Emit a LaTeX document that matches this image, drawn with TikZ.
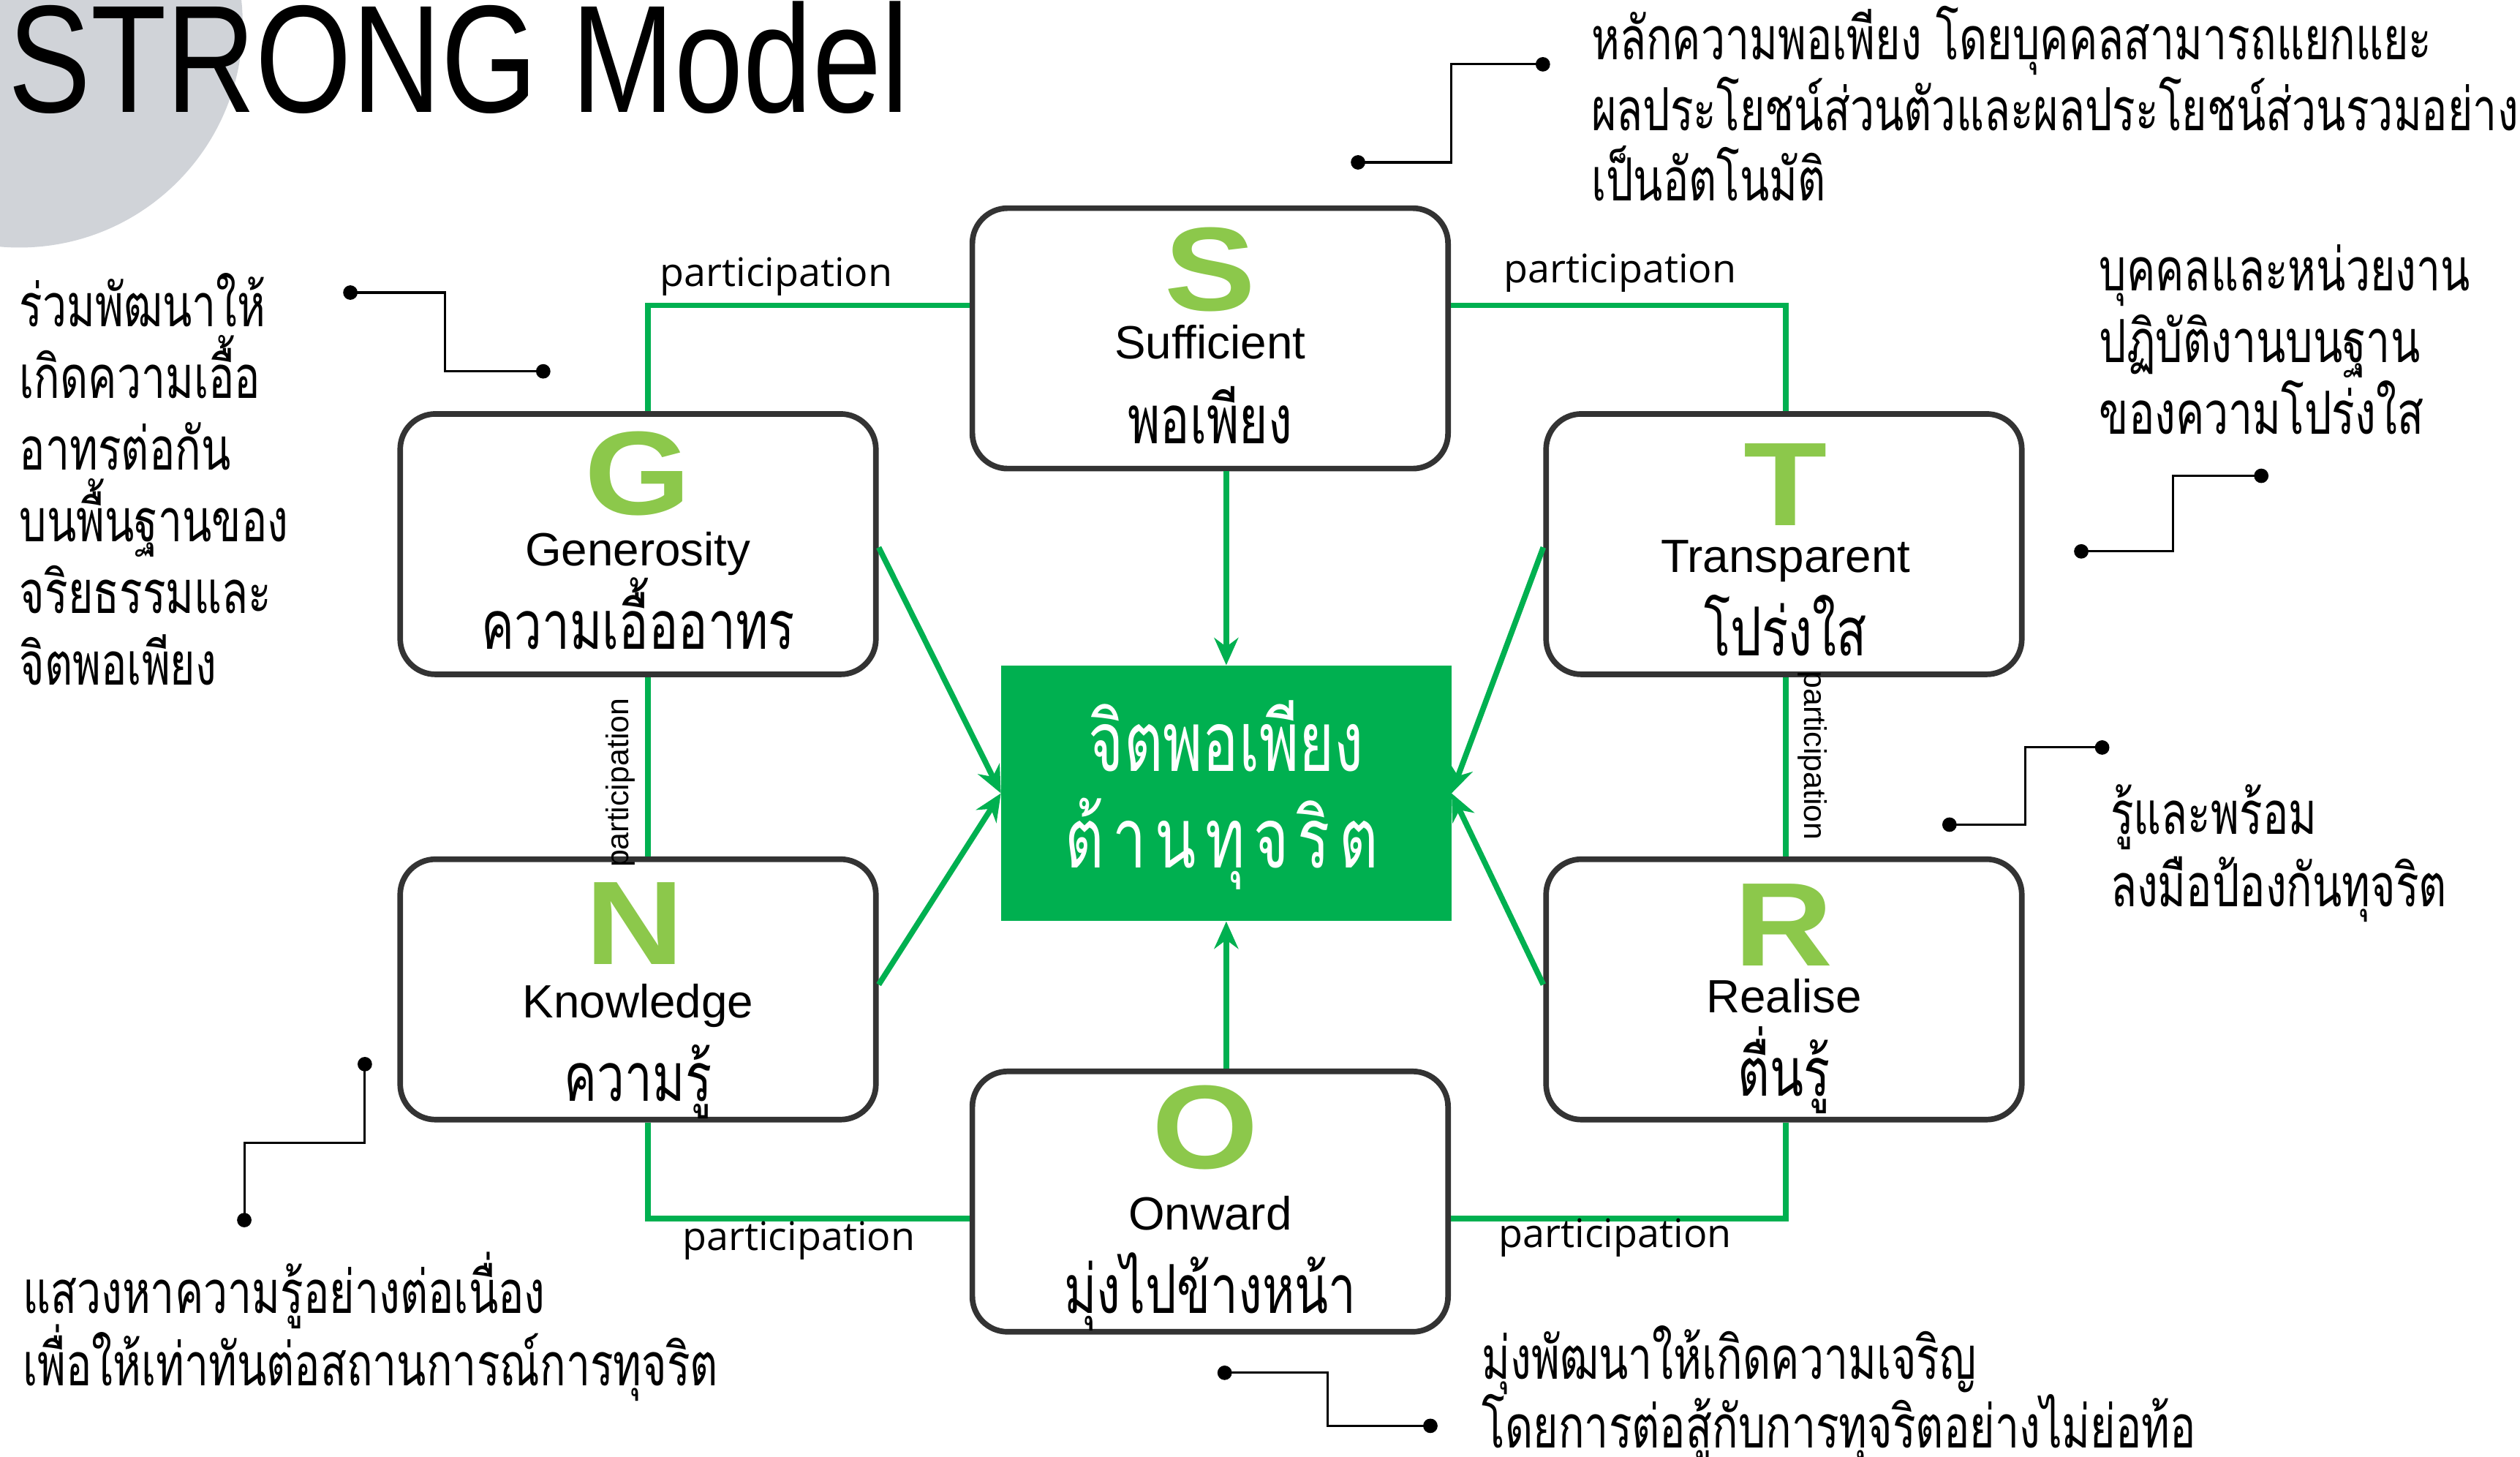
\documentclass[tikz,border=0pt]{standalone}
\usepackage{fontspec}
\setmainfont{Liberation Sans}
\newfontfamily\thain[Script=Thai,FakeStretch=0.725]{Loma}
\newfontfamily\thaib[Script=Thai,FakeStretch=0.73]{Loma}
\newfontfamily\thaic[Script=Thai,FakeStretch=0.72]{Loma}
\newfontfamily\opens{Open Sans}
\usetikzlibrary{arrows.meta}
\definecolor{gr}{HTML}{00B050}
\definecolor{lg}{HTML}{8CC84B}
\definecolor{bx}{HTML}{333333}
\definecolor{circ}{HTML}{D0D3D8}
\begin{document}
\begin{tikzpicture}[x=1pt,y=-1pt,
  bbox/.style={draw=bx,line width=3.5pt,rounded corners=22pt,fill=white,minimum width=296pt,minimum height=162pt,inner sep=0pt},
  big/.style={text=lg,font=\fontsize{74}{74}\selectfont\bfseries,inner sep=0pt,anchor=base},
  eng/.style={font=\fontsize{29}{29}\selectfont,inner sep=0pt,anchor=base},
  th/.style={font=\thaib\fontsize{42}{42}\selectfont,inner sep=0pt,anchor=base},
  ann/.style={font=\thain\fontsize{37}{37}\selectfont,inner sep=0pt,anchor=base west},
  ctr/.style={text=white,font=\thaic\fontsize{52}{52}\selectfont,inner sep=0pt,anchor=base},
  part/.style={font=\opens\fontsize{24.5}{24.5}\selectfont,inner sep=0pt},
  vpart/.style={font=\fontsize{19.5}{19.5}\selectfont,inner sep=0pt},
  link/.style={draw=gr,line width=3.5pt},
  arr/.style={draw=gr,line width=3.5pt,-{Stealth[length=17pt,width=15pt]}},
  call/.style={draw=black,line width=1.4pt},
  dot/.style={circle,fill=black,inner sep=0pt,minimum size=9pt}
]
\useasboundingbox (0,0) rectangle (1568,906);
\fill[circ] (12,15) circle[radius=139pt];
\node[anchor=south west,inner sep=0pt] (title) at (5,71) {\resizebox{560pt}{69pt}{STRONG Model}};

% boxes
\node[bbox] (S) at (753,210.5) {};
\node[bbox] (G) at (397,338.5) {};
\node[bbox] (T) at (1110,338.5) {};
\node[bbox] (N) at (397,615.5) {};
\node[bbox] (R) at (1110,615.5) {};
\node[bbox] (O) at (753,747.5) {};
\node[fill=gr,minimum width=280pt,minimum height=159pt,inner sep=0pt] (C) at (763,493.5) {};

% letters and labels
\node[big] (Sl) at (753,193) {\scalebox{1.15}[1]{S}};
\node[eng] (Se) at (753,223) {Sufficient};
\node[th]  (St) at (753,276) {พอเพียง};
\node[big] (Gl) at (397,320) {\scalebox{1.15}[1]{G}};
\node[eng] (Ge) at (397,352) {Generosity};
\node[th]  (Gt) at (397,404) {ความเอื้ออาทร};
\node[big] (Tl) at (1111,327) {\scalebox{1.15}[1]{T}};
\node[eng] (Te) at (1111,356) {Transparent};
\node[th]  (Tt) at (1111,408) {โปร่งใส};
\node[big] (Nl) at (395,600) {\scalebox{1.15}[1]{N}};
\node[eng] (Ne) at (397,633) {Knowledge};
\node[th]  (Nt) at (397,685) {ความรู้};
\node[big] (Rl) at (1110,601) {\scalebox{1.15}[1]{R}};
\node[eng] (Re) at (1110,630) {Realise};
\node[th]  (Rt) at (1110,682) {ตื่นรู้};
\node[big] (Ol) at (750,727) {\scalebox{1.15}[1]{O}};
\node[eng] (Oe) at (753,765) {Onward};
\node[th]  (Ot) at (753,817) {มุ่งไปข้างหน้า};

\node[ctr] (C1) at (763,480) {จิตพอเพียง};
\node[ctr] (C2) at (760,540) {ต้\hspace{5.5pt}า\hspace{5.5pt}น\hspace{5.5pt}ทุ\hspace{5.5pt}จ\hspace{5.5pt}ริ\hspace{5.5pt}ต};

% participation links
\draw[link] ([xshift=6pt]G.north) |- ([yshift=20.5pt]S.west);
\draw[link] ([yshift=20.5pt]S.east) -| ([xshift=1pt]T.north);
\draw[link] ([xshift=6pt]G.south) -- ([xshift=6pt]N.north);
\draw[link] ([xshift=1pt]T.south) -- ([xshift=1pt]R.north);
\draw[link] ([xshift=6pt]N.south) |- ([yshift=-10.5pt]O.west);
\draw[link] ([xshift=1pt]R.south) |- ([yshift=-10.5pt]O.east);
\node[part,anchor=base] (p1) at (483,178) {participation};
\node[part,anchor=base] (p2) at (1008,176) {participation};
\node[part,anchor=base] (p3) at (497,778) {participation};
\node[part,anchor=base] (p4) at (1005,776) {participation};
\node[vpart,rotate=90] (p5) at (386,487) {participation};
\node[vpart,rotate=-90] (p6) at (1128,470) {participation};

% arrows to centre
\draw[arr] ([xshift=10pt]S.south) -- (C.north);
\draw[arr] ([xshift=10pt]O.north) -- (C.south);
\draw[arr] ([yshift=-2pt]G.east) -- (C.west);
\draw[arr] ([yshift=3pt]N.east) -- (C.west);
\draw[arr] ([yshift=-2pt]T.west) -- (C.east);
\draw[arr] ([yshift=3pt]R.west) -- (C.east);

% callouts
\node[dot] (a1) at (845,101) {}; \node[dot] (b1) at (960,40) {};
\draw[call] (a1.center) -- (903,101) |- (b1.center);
\node[dot] (a2) at (218,182) {}; \node[dot] (b2) at (338,231) {};
\draw[call] (a2.center) -- (277,182) |- (b2.center);
\node[dot] (a3) at (1295,343) {}; \node[dot] (b3) at (1407,296) {};
\draw[call] (a3.center) -- (1352,343) |- (b3.center);
\node[dot] (a4) at (1213,513) {}; \node[dot] (b4) at (1308,465) {};
\draw[call] (a4.center) -- (1260,513) |- (b4.center);
\node[dot] (a5) at (227,662) {}; \node[dot] (b5) at (152,759) {};
\draw[call] (a5.center) -- (227,711) -| (b5.center);
\node[dot] (a6) at (762,854) {}; \node[dot] (b6) at (890,887) {};
\draw[call] (a6.center) -- (826,854) |- (b6.center);

% annotation texts
\foreach \t [count=\i from 0] in {หลักความพอเพียง โดยบุคคลสามารถแยกแยะ,ผลประโยชน์ส่วนตัวและผลประโยชน์ส่วนรวมอย่าง,เป็นอัตโนมัติ}
  \node[ann] (tS\i) at (990,37+\i*44) {\t};
\foreach \t [count=\i from 0] in {ร่วมพัฒนาให้,เกิดความเอื้อ,อาทรต่อกัน,บนพื้นฐานของ,จริยธรรมและ,จิตพอเพียง}
  \node[ann] (tG\i) at (12,203+\i*44.6) {\t};
\foreach \t [count=\i from 0] in {บุคคลและหน่วยงาน,ปฏิบัติงานบนฐาน,ของความโปร่งใส}
  \node[ann] (tT\i) at (1306,181+\i*44.5) {\t};
\foreach \t [count=\i from 0] in {รู้และพร้อม,ลงมือป้องกันทุจริต}
  \node[ann] (tR\i) at (1313,519+\i*45) {\t};
\foreach \t [count=\i from 0] in {แสวงหาความรู้อย่างต่อเนื่อง,เพื่อให้เท่าทันต่อสถานการณ์การทุจริต}
  \node[ann] (tN\i) at (14,817+\i*45) {\t};
\foreach \t [count=\i from 0] in {มุ่งพัฒนาให้เกิดความเจริญ,โดยการต่อสู้กับการทุจริตอย่างไม่ย่อท้อ}
  \node[ann] (tO\i) at (922,858+\i*42.5) {\t};
\end{tikzpicture}
\end{document}
